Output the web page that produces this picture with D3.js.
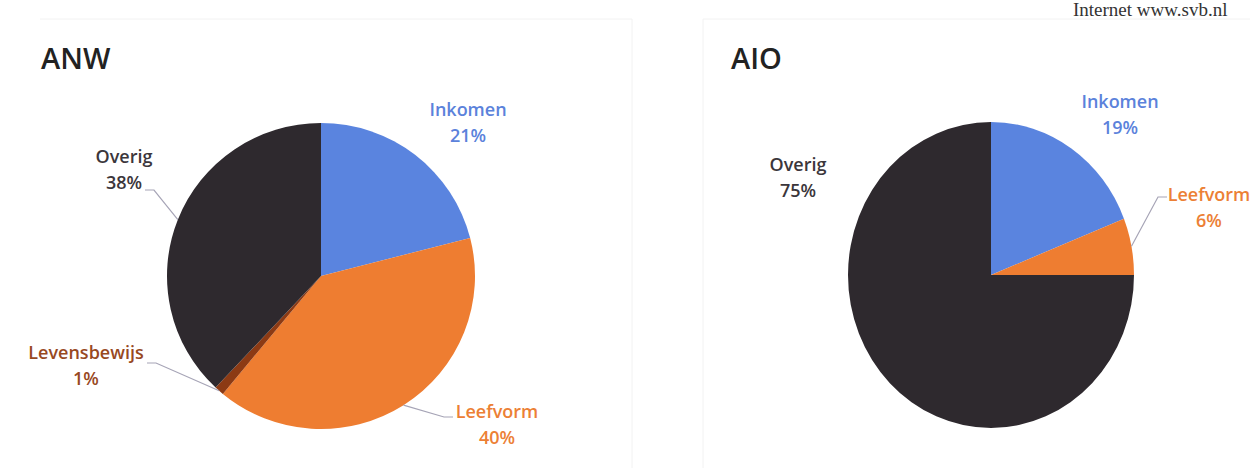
<!DOCTYPE html>
<html>
<head>
<meta charset="utf-8">
<script src="https://cdn.jsdelivr.net/npm/d3@7"></script>
<style>
  body { margin: 0; background: #fff; }
  svg { display: block; }
  .lbl { font-family: "Open Sans", sans-serif; font-weight: 600; font-size: 18px; }
  .ttl { font-family: "Open Sans", sans-serif; font-weight: 600; font-size: 29px; fill: #222; }
</style>
</head>
<body>
<svg id="chart" width="1250" height="472"></svg>
<script>
// data
var anwCats   = ["Inkomen", "Leefvorm", "Levensbewijs", "Overig"];
var anwValues = [21, 40, 1, 38];
var aioCats   = ["Inkomen", "Leefvorm", "Overig"];
var aioValues = [19, 6, 75];

var sliceColors = d3.scaleOrdinal()
    .domain(["Inkomen", "Leefvorm", "Levensbewijs", "Overig"])
    .range(["#5a84df", "#ee7d31", "#8c3a14", "#2e292e"]);
var textColors = d3.scaleOrdinal()
    .domain(["Inkomen", "Leefvorm", "Levensbewijs", "Overig"])
    .range(["#5b82db", "#ec8035", "#98491f", "#3b363b"]);

var svg = d3.select("#chart");

// faint panel frames from the scan
svg.append("path")
    .attr("d", "M40,19H632V468")
    .attr("fill", "none").attr("stroke", "#f2f2f2");
svg.append("path")
    .attr("d", "M703,468V19H1250")
    .attr("fill", "none").attr("stroke", "#f2f2f2");

// page header from the scan
svg.append("text")
    .attr("x", 1073).attr("y", 16)
    .style("font-family", "'Liberation Serif', serif")
    .style("font-size", "19px")
    .attr("fill", "#333")
    .text("Internet www.svb.nl");

var pie = d3.pie().sort(null);

// one pie chart; labels: [centerX, firstLineY, leaderX, leaderY, side] (side = direction to the pie)
function drawPie(opts) {
    var sx = opts.rx / opts.ry;
    var arcs = pie(opts.values);
    var arc = d3.arc().innerRadius(0).outerRadius(opts.ry);
    var rim = d3.arc().innerRadius(opts.ry).outerRadius(opts.ry);

    svg.append("text")
        .attr("class", "ttl")
        .attr("x", opts.titleX).attr("y", 69)
        .text(opts.title);

    var g = svg.append("g")
        .attr("transform", "translate(" + opts.cx + "," + opts.cy + ") scale(" + sx + ",1)");

    g.selectAll("path")
        .data(arcs)
        .enter()
        .append("path")
        .attr("d", arc)
        .attr("fill", function (d, i) { return sliceColors(opts.cats[i]); });

    arcs.forEach(function (d, i) {
        var lp = opts.labels[i];
        var name = opts.cats[i];
        var t = svg.append("text")
            .attr("class", "lbl")
            .attr("text-anchor", "middle")
            .attr("fill", textColors(name));
        t.append("tspan").attr("x", lp[0]).attr("y", lp[1] + 6).text(name);
        t.append("tspan").attr("x", lp[0]).attr("y", lp[1] + 32).text(d.value + "%");

        if (lp[2] != null) {
            var e = rim.centroid(d);
            var ex = opts.cx + e[0] * sx, ey = opts.cy + e[1];
            var pts = [[lp[2], lp[3]], [lp[2] + lp[4] * 9, lp[3]], [ex, ey]];
            svg.append("path")
                .attr("d", d3.line()(pts))
                .attr("fill", "none")
                .attr("stroke", "#a6a4b6")
                .attr("stroke-width", 1.2);
        }
    });
}

drawPie({
    title: "ANW", titleX: 41,
    cats: anwCats, values: anwValues,
    cx: 321, cy: 276, rx: 154, ry: 153,
    labels: [
        [468, 110, null],
        [497, 412, 453, 417, -1],
        [86, 353, 147, 363, 1],
        [124, 157, 145, 190, 1]
    ]
});

drawPie({
    title: "AIO", titleX: 731,
    cats: aioCats, values: aioValues,
    cx: 991, cy: 275, rx: 143, ry: 153,
    labels: [
        [1120, 102, null],
        [1209, 195, 1167, 197, -1],
        [798, 165, null]
    ]
});
</script>
</body>
</html>
